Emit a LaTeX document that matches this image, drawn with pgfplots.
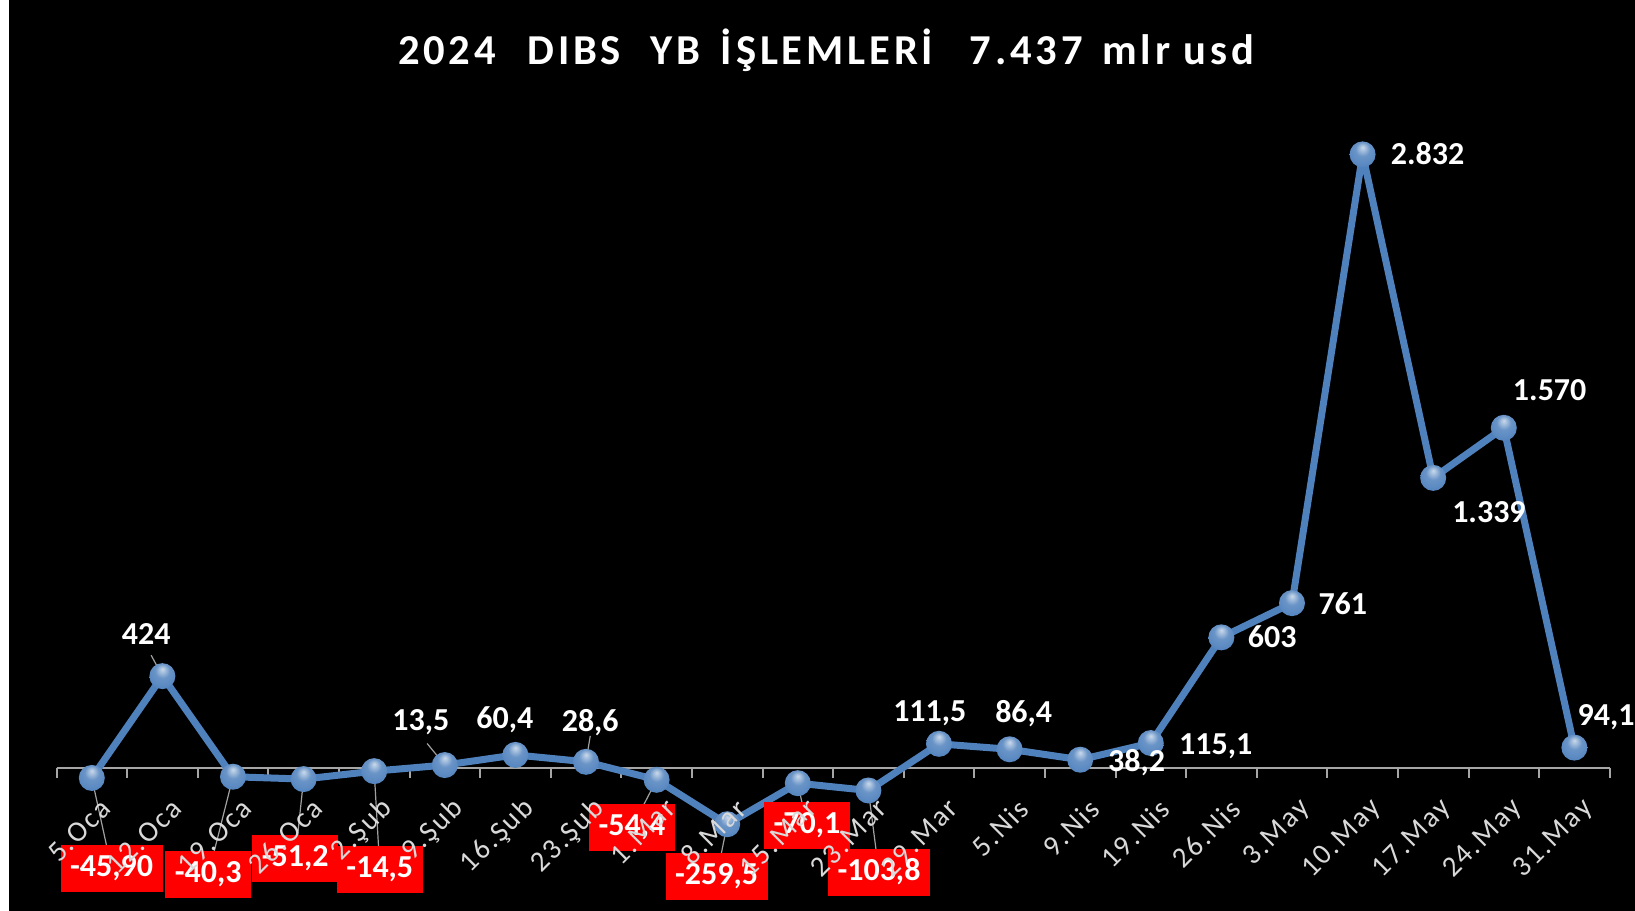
\documentclass[border=0pt]{standalone}
\usepackage{fontspec}
\setmainfont{Carlito}
\newfontfamily\titlefont[LetterSpace=9]{Carlito}
\usepackage{pgfplots}
\pgfplotsset{compat=1.18}
\usepackage{pgfplotstable}
\definecolor{xlblue}{HTML}{4F81BD}
\definecolor{axgray}{HTML}{A6A6A6}
\definecolor{tickgray}{HTML}{D9D9D9}
\definecolor{leadgray}{HTML}{A0A0A0}

% letter-spaced tick labels
\def\lsp#1{\lspa#1\relax}
\def\lspa#1{#1\lspb}
\def\lspb#1{\ifx\relax#1\else\kern1.0pt#1\expandafter\lspb\fi}

\pgfdeclareradialshading{xlball}{\pgfqpoint{0bp}{14bp}}{color(0bp)=(xlblue!30!white); color(14bp)=(xlblue!85!white); color(35bp)=(xlblue); color(50bp)=(xlblue!72!black)}
\pgfdeclareplotmark{xlball}{\pgfpathcircle{\pgfpointorigin}{\pgfplotmarksize}\pgfshadepath{xlball}{0}\pgfusepath{}}

\pgfplotstableread{
x y
0 -45.9
1 424
2 -40.3
3 -51.2
4 -14.5
5 13.5
6 60.4
7 28.6
8 -54.4
9 -259.5
10 -70.1
11 -103.8
12 111.5
13 86.4
14 38.2
15 115.1
16 603
17 761
18 2832
19 1339
20 1570
21 94.1
}\maindata

\pgfplotstableread{
x y u v
0 -45.9 0.28 -418.1
1 424 -0.16 97
2 -40.3 -0.35 -452.7
3 -51.2 -0.12 -368.8
4 -14.5 0.08 -454.5
5 13.5 -0.25 99.5
7 28.6 0.06 119.4
8 -54.4 -0.35 -221.6
9 -259.5 -0.15 -243.5
10 -70.1 0.13 -196.9
11 -103.8 0.15 -379.2
}\leaders

\pgfplotstableread{
x y label
0.77 614 424
4.66 219 13,5
5.85 229 60,4
7.06 215 28,6
11.87 263 111,5
13.20 254 86,4
14.80 32 38,2
15.92 108 115,1
16.72 600 603
17.72 753 761
18.92 2832 2.832
19.79 1177 1.339
20.65 1740 1.570
21.45 240 94,1
}\poslabels

\pgfplotstableread{
x y label
0.28 -464 -45,90
1.65 -493 -40,3
2.88 -420 -51,2
4.08 -469 -14,5
7.65 -276 -54,4
8.85 -503 -259,5
10.13 -267 -70,1
11.15 -483 -103,8
}\neglabels

\pgfplotsset{
  chartbase/.style={
    at={(28.25pt,71.5pt)}, anchor=south west,
    scale only axis, width=776.6pt, height=325pt,
    xmin=-0.5, xmax=21.5, ymin=0, ymax=3000,
    clip=false,
    axis y line=none, axis x line=bottom,
  },
}

\begin{document}
\begin{tikzpicture}
\path[use as bounding box, fill=white] (0,0) rectangle (817.5pt,455.5pt);
\fill[black] (4.5pt,0) rectangle (817.5pt,455.5pt);
\node[anchor=base, text=white, inner sep=0pt] at (413pt,423pt)
  {\titlefont\bfseries\fontsize{21.3}{21.3}\selectfont 2024 \hspace{9pt}DIBS \hspace{8pt}YB \hspace{3.5pt}İŞLEMLERİ \hspace{11.5pt}7.437 \hspace{3pt}mlr usd};
\begin{axis}[
  chartbase,
  axis line style={-, draw=axgray, line width=1pt},
  xtick={0,...,21},
  xticklabels={},
  major tick length=0pt,
  minor xtick={-0.5,0.5,...,21.5},
  minor tick length=5pt,
  tick align=outside,
  tick style={draw=axgray, line width=1pt},
]
\addplot[xlblue, line width=3.5pt, line join=round, mark=xlball, mark size=6.5pt] table {\maindata};
\addplot[draw=leadgray, line width=0.6pt, -, quiver={u=\thisrow{u}, v=\thisrow{v}}] table {\leaders};
\addplot[draw=none, nodes near coords, point meta=explicit symbolic, nodes near coords align={center},
  every node near coord/.append style={text=white, font=\bfseries\fontsize{16}{16}\selectfont, text height=10pt, text depth=0pt, inner sep=0pt}]
  table[meta=label] {\poslabels};
\addplot[draw=none, nodes near coords, point meta=explicit symbolic, nodes near coords align={center},
  every node near coord/.append style={fill=red, text=white, font=\bfseries\fontsize{16}{16}\selectfont, text height=11pt, text depth=3.5pt, inner xsep=4.75pt, inner ysep=4.5pt}]
  table[meta=label] {\neglabels};
\end{axis}
% overlay axis holding only the category labels, so that they sit on top of the red boxes
\begin{axis}[
  chartbase,
  axis line style={draw=none},
  xtick={0.27,1.27,2.27,3.27,4.27,5.27,6.27,7.27,8.27,9.27,10.27,11.27,12.27,13.27,14.27,15.27,16.27,17.27,18.27,19.27,20.27,21.27},
  xticklabels={\lsp{5.Oca},\lsp{12.Oca},\lsp{19.Oca},\lsp{26.Oca},\lsp{2.Şub},\lsp{9.Şub},\lsp{16.Şub},\lsp{23.Şub},\lsp{1.Mar},\lsp{8.Mar},\lsp{15.Mar},\lsp{23.Mar},\lsp{29.Mar},\lsp{5.Nis},\lsp{9.Nis},\lsp{19.Nis},\lsp{26.Nis},\lsp{3.May},\lsp{10.May},\lsp{17.May},\lsp{24.May},\lsp{31.May}},
  major tick length=0pt,
  tick style={draw=none},
  xticklabel shift=15.5pt,
  xticklabel style={rotate=45, anchor=east, text=tickgray, font=\fontsize{14.5}{14.5}\selectfont},
]
\end{axis}
\end{tikzpicture}
\end{document}
